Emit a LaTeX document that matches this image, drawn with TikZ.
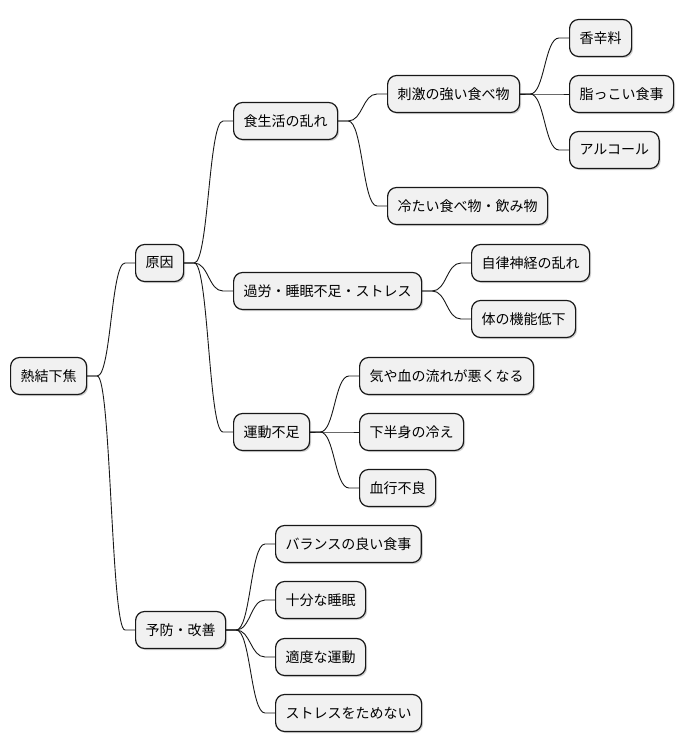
\documentclass[tikz,border=0pt]{standalone}
\usepackage{fontspec}
\setmainfont{Noto Sans CJK JP}
\usetikzlibrary{calc,shadows}
\definecolor{boxfill}{HTML}{F1F1F1}
\definecolor{boxline}{HTML}{181818}
\tikzset{
  mmbox/.style={draw=boxline, fill=boxfill, line width=1.2pt, rounded corners=9pt,
    anchor=west, minimum height=37pt, inner xsep=10pt, inner ysep=0pt,
    font=\fontsize{14pt}{16pt}\selectfont,
    drop shadow={shadow xshift=1.5pt, shadow yshift=-1.5pt, opacity=0.18, fill=black}},
  mmline/.style={draw=boxline, line width=0.9pt}
}
\newcommand{\mmconn}[2]{%
  \draw[mmline] let \p1=(#1.east), \p2=(#2.west) in
    (\p1) -- (\x1+10pt,\y1) .. controls ({(\x1+\x2)/2},\y1) and ({(\x1+\x2)/2},\y2) .. (\x2-10pt,\y2) -- (\p2);}
\begin{document}
\begin{tikzpicture}[x=1pt,y=-1pt]
\useasboundingbox (0,0) rectangle (684,752);
\node[mmbox] (root) at (10,376) {熱結下焦};
\node[mmbox] (genin) at (135,263) {原因};
\node[mmbox] (yobou) at (135,630) {予防・改善};
\node[mmbox] (shoku) at (233,121) {食生活の乱れ};
\node[mmbox] (karou) at (233,291) {過労・睡眠不足・ストレス};
\node[mmbox] (undou) at (233,432) {運動不足};
\node[mmbox] (shigeki) at (387,94) {刺激の強い食べ物};
\node[mmbox] (tsumetai) at (387,206) {冷たい食べ物・飲み物};
\node[mmbox] (kou) at (569,38) {香辛料};
\node[mmbox] (abura) at (569,94) {脂っこい食事};
\node[mmbox] (alc) at (569,150) {アルコール};
\node[mmbox] (jiritsu) at (471,263) {自律神経の乱れ};
\node[mmbox] (karada) at (471,319) {体の機能低下};
\node[mmbox] (ki) at (359,376) {気や血の流れが悪くなる};
\node[mmbox] (kahan) at (359,432) {下半身の冷え};
\node[mmbox] (kekkou) at (359,488) {血行不良};
\node[mmbox] (balance) at (275,544) {バランスの良い食事};
\node[mmbox] (suimin) at (275,600) {十分な睡眠};
\node[mmbox] (tekido) at (275,657) {適度な運動};
\node[mmbox] (stress) at (275,713) {ストレスをためない};
\mmconn{root}{genin}
\mmconn{root}{yobou}
\mmconn{genin}{shoku}
\mmconn{genin}{karou}
\mmconn{genin}{undou}
\mmconn{shoku}{shigeki}
\mmconn{shoku}{tsumetai}
\mmconn{shigeki}{kou}
\mmconn{shigeki}{abura}
\mmconn{shigeki}{alc}
\mmconn{karou}{jiritsu}
\mmconn{karou}{karada}
\mmconn{undou}{ki}
\mmconn{undou}{kahan}
\mmconn{undou}{kekkou}
\mmconn{yobou}{balance}
\mmconn{yobou}{suimin}
\mmconn{yobou}{tekido}
\mmconn{yobou}{stress}
\end{tikzpicture}
\end{document}
